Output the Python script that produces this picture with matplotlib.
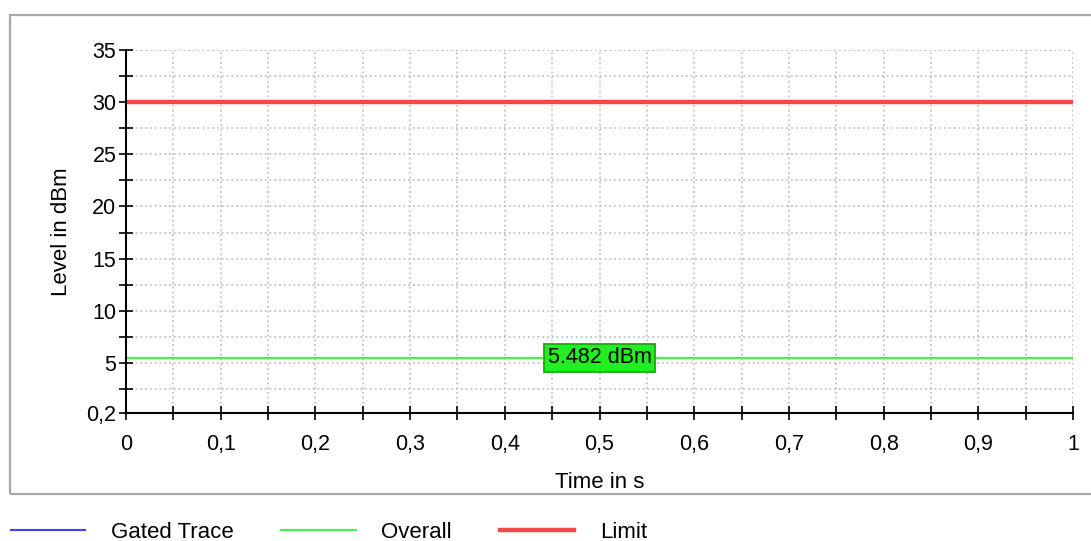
import matplotlib.pyplot as plt
import matplotlib.patches as patches
import numpy as np

plt.rcParams['font.family'] = ['Liberation Sans', 'DejaVu Sans']

# data
time_s = [0.0, 1.0]
gated_trace = []          # no visible samples, only in legend
overall_dbm = [5.482, 5.482]
limit_dbm = [30, 30]
overall_label = "5.482 dBm"

x_major = [0, 0.1, 0.2, 0.3, 0.4, 0.5, 0.6, 0.7, 0.8, 0.9, 1.0]
x_labels = ["0", "0,1", "0,2", "0,3", "0,4", "0,5", "0,6", "0,7", "0,8", "0,9", "1"]
x_minor = [0.05, 0.15, 0.25, 0.35, 0.45, 0.55, 0.65, 0.75, 0.85, 0.95]
y_major = [0.2, 5, 10, 15, 20, 25, 30, 35]
y_labels = ["0,2", "5", "10", "15", "20", "25", "30", "35"]
y_minor = [2.5, 7.5, 12.5, 17.5, 22.5, 27.5, 32.5]

FS = 15.5
W, H = 1091, 541
fig = plt.figure(figsize=(W / 100, H / 100), dpi=100)

# outer grey frame (right edge runs off the picture)
frame = patches.Rectangle((10 / W, 1 - 494 / H), 1.2, (494 - 15) / H,
                          transform=fig.transFigure, fill=False,
                          edgecolor='#a8a8a8', linewidth=1.6, zorder=0)
fig.patches.append(frame)

ax = fig.add_axes([126 / W, 1 - 413 / H, (1073 - 126) / W, (413 - 50) / H])
ax.set_xlim(0, 1)
ax.set_ylim(0.2, 35)

ax.plot(time_s[:len(gated_trace)], gated_trace, color='#4040ff', lw=1.5, label='Gated Trace')
ax.plot(time_s, overall_dbm, color='#4cf04c', lw=1.6, label='Overall', zorder=3)
ax.plot(time_s, limit_dbm, color='#f44848', lw=3.2, label='Limit', zorder=3)

ax.text(0.5, overall_dbm[0], overall_label, ha='center', va='center', fontsize=FS,
        bbox=dict(boxstyle='square,pad=0.15', facecolor='#22ee22', edgecolor='#18a818', lw=1.3),
        zorder=4)

ax.set_xticks(x_major)
ax.set_xticklabels(x_labels)
ax.set_xticks(x_minor, minor=True)
ax.set_yticks(y_major)
ax.set_yticklabels(y_labels)
ax.set_yticks(y_minor, minor=True)

ax.tick_params(which='both', direction='inout', length=10, width=1.2, color='black',
               labelsize=FS)
ax.tick_params(axis='x', which='both', pad=10)
ax.tick_params(axis='y', which='both', pad=2)

ax.grid(True, which='both', linestyle=':', color='#c4c4c4', linewidth=1.3)
ax.set_axisbelow(True)

for side in ['top', 'right']:
    ax.spines[side].set_visible(False)
for side in ['left', 'bottom']:
    ax.spines[side].set_linewidth(1.5)
    ax.spines[side].set_zorder(5)

# extra dotted lines at the top and right borders
ax.axhline(35, linestyle=':', color='#c4c4c4', linewidth=1.3, zorder=0.5)
ax.axvline(1.0, linestyle=':', color='#c4c4c4', linewidth=1.3, zorder=0.5)

ax.set_xlabel("Time in s", fontsize=16, labelpad=12)
ax.set_ylabel("Level in dBm", fontsize=16, labelpad=10)

handles, labels = ax.get_legend_handles_labels()
fig.legend(handles, labels, loc='center left', bbox_to_anchor=(2 / W, 1 - 532 / H),
           ncol=3, frameon=False, fontsize=16, handlelength=3.35,
           handletextpad=1.15, columnspacing=2.15, borderaxespad=0, borderpad=0.4)

plt.savefig("out.png", dpi=100)
